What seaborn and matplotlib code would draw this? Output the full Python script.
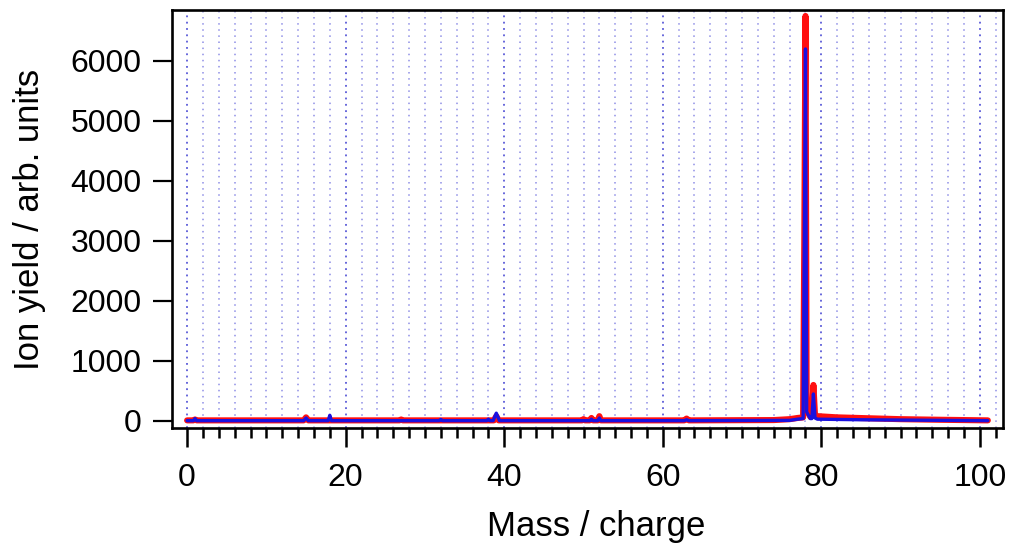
import matplotlib
matplotlib.use("Agg")
import matplotlib.pyplot as plt
import seaborn as sns
import numpy as np
import pandas as pd
from matplotlib.ticker import MultipleLocator

# ---- data ----
red_mass = [0, 0.8, 1.0, 1.2, 14.7, 15.0, 15.3, 26.8, 27.0, 27.2, 38.7, 39.0, 39.3,
            49.8, 50.0, 50.2, 50.8, 51.0, 51.2, 51.8, 52.0, 52.2, 62.7, 63.0, 63.3,
            74.0, 76.0, 77.0, 77.7, 77.85, 78.0, 78.15, 78.6, 78.8, 79.0, 79.2, 79.5,
            82.0, 86.0, 90.0, 95.0, 101.0]
red_yield = [10, 10, 25, 10, 10, 60, 10, 10, 25, 10, 10, 80, 10,
             10, 30, 10, 10, 50, 10, 10, 80, 10, 10, 40, 10,
             15, 30, 50, 60, 3000, 6750, 200, 70, 80, 600, 90, 80,
             60, 45, 30, 20, 10]

blue_mass = [0, 0.8, 1.0, 1.2, 14.7, 15.0, 15.3, 17.8, 18.0, 18.2, 31.8, 32.0, 32.2,
             37.8, 38.0, 38.2, 38.6, 39.0, 39.4, 50.8, 51.0, 51.2, 51.8, 52.0, 52.2,
             62.7, 63.0, 63.3, 76.0, 77.0, 77.7, 77.85, 78.0, 78.15, 78.6, 78.8, 79.0,
             79.2, 79.5, 85.0, 101.0]
blue_yield = [5, 5, 40, 5, 5, 50, 5, 5, 95, 5, 5, 25, 5,
              5, 30, 5, 5, 130, 5, 5, 30, 5, 5, 50, 5,
              5, 20, 5, 10, 30, 40, 3000, 6200, 150, 40, 40, 450,
              50, 30, 20, 5]

x_major = [0, 20, 40, 60, 80, 100]
y_major = [0, 1000, 2000, 3000, 4000, 5000, 6000]

# ---- style ----
sns.set_theme(style="white")
plt.rcParams['font.family'] = ['Liberation Sans', 'DejaVu Sans']
plt.rcParams['text.color'] = 'black'
plt.rcParams['axes.labelcolor'] = 'black'
plt.rcParams['xtick.color'] = 'black'
plt.rcParams['ytick.color'] = 'black'

fig = plt.figure(figsize=(10.12, 5.45), dpi=100)
ax = fig.add_axes([0.170, 0.2147, 0.821, 0.767])

sns.lineplot(x=red_mass, y=red_yield, color='#ff1010', linewidth=4.4,
             estimator=None, sort=False, ax=ax, solid_joinstyle='round',
             solid_capstyle='round')
sns.lineplot(x=blue_mass, y=blue_yield, color='#1a10e0', linewidth=2.4,
             estimator=None, sort=False, ax=ax, solid_joinstyle='round',
             solid_capstyle='round')

ax.set_xlim(-1.9, 102.9)
ax.set_ylim(-117, 6850)
ax.set_xticks(x_major)
ax.set_xticklabels([str(v) for v in x_major])
ax.set_yticks(y_major)
ax.set_yticklabels([str(v) for v in y_major])
ax.xaxis.set_minor_locator(MultipleLocator(2))

# vertical dotted grid
ax.grid(False)
ax.xaxis.grid(True, which='minor', color='#8e8ee6', linestyle=(0, (1, 3)), linewidth=1.1)
ax.xaxis.grid(True, which='major', color='#5a5ad8', linestyle=(0, (1, 2.5)), linewidth=1.3)
ax.set_axisbelow(True)

for s in ax.spines.values():
    s.set_visible(True)
    s.set_color('black')
    s.set_linewidth(1.9)

ax.tick_params(axis='x', which='major', direction='out', length=14, width=1.8,
               color='black', labelcolor='black', labelsize=23, pad=11, bottom=True)
ax.tick_params(axis='x', which='minor', direction='out', length=7, width=1.8,
               color='black', bottom=True)
ax.tick_params(axis='y', which='major', direction='out', length=14, width=1.6,
               color='black', labelcolor='black', labelsize=23, pad=8, left=True)

ax.set_xlabel('Mass / charge', fontsize=25, color='black')
ax.set_ylabel('Ion yield / arb. units', fontsize=25, color='black')
ax.xaxis.set_label_coords(0.51, -0.195)
ax.yaxis.set_label_coords(-0.152, 0.5)

fig.savefig('out.png', dpi=100, facecolor='white')
